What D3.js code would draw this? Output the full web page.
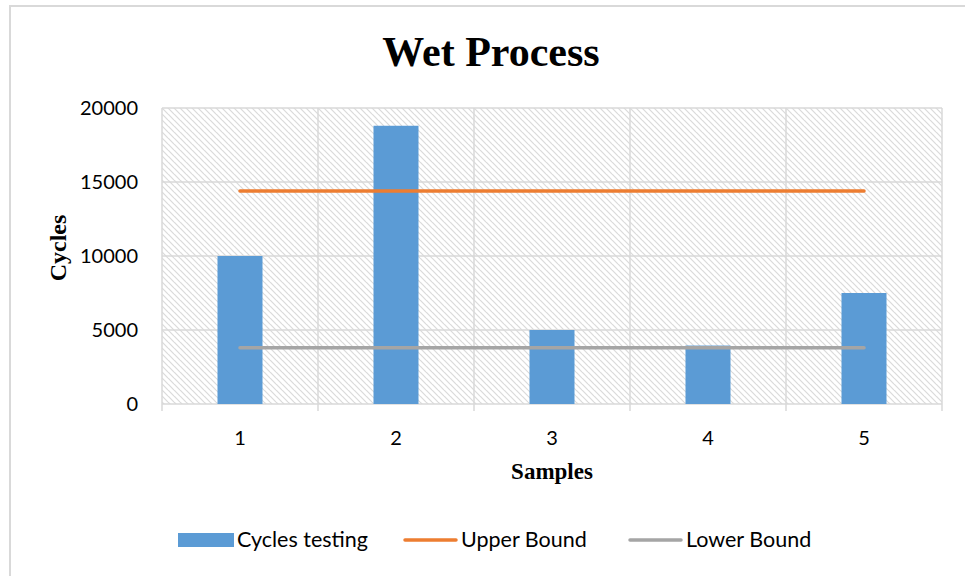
<!DOCTYPE html>
<html><head><meta charset="utf-8">
<script src="https://cdn.jsdelivr.net/npm/d3@7"></script>
<style>body{margin:0;background:#fff;} svg{display:block;}</style>
</head><body>
<script>
const categories = ["1","2","3","4","5"];
const cyclesTesting = [10000, 18800, 5000, 3950, 7500];
const upperBound = [14400, 14400, 14400, 14400, 14400];
const lowerBound = [3800, 3800, 3800, 3800, 3800];
const yTicks = [0, 5000, 10000, 15000, 20000];

const W = 965, H = 576;
const m = {left:162, right:942, top:108, bottom:404};
const svg = d3.select("body").append("svg").attr("width", W).attr("height", H);

// chart border
svg.append("rect").attr("x",10).attr("y",6).attr("width",980).attr("height",600)
  .attr("fill","#fff").attr("stroke","#d9d9d9").attr("stroke-width",2);

const defs = svg.append("defs");
const pat = defs.append("pattern").attr("id","hatch").attr("patternUnits","userSpaceOnUse")
  .attr("width",6).attr("height",6);
pat.append("rect").attr("width",6).attr("height",6).attr("fill","#fff");
pat.append("path").attr("d","M0,0 L6,6 M-3,3 L0,6 M3,-3 L9,3 M4,-2 L8,2")
  .attr("stroke","#dadada").attr("stroke-width",1.2);

const x = d3.scaleBand().domain(categories).range([m.left, m.right]);
const y = d3.scaleLinear().domain([0,20000]).range([m.bottom, m.top]);

svg.append("rect").attr("x",m.left).attr("y",m.top).attr("width",m.right-m.left).attr("height",m.bottom-m.top)
  .attr("fill","url(#hatch)");

// horizontal gridlines
svg.append("g").selectAll("line").data(yTicks).join("line")
  .attr("x1",m.left).attr("x2",m.right).attr("y1",d=>y(d)).attr("y2",d=>y(d))
  .attr("stroke","#d9d9d9").attr("stroke-width",1.5);
// vertical gridlines at category boundaries
const bounds = categories.map(c=>x(c)).concat([m.right]);
svg.append("g").selectAll("line").data(bounds).join("line")
  .attr("x1",d=>d).attr("x2",d=>d).attr("y1",m.top).attr("y2",m.bottom+7)
  .attr("stroke","#d9d9d9").attr("stroke-width",1.5);

// bars
const bw = 45;
svg.append("g").selectAll("rect").data(cyclesTesting).join("rect")
  .attr("x",(d,i)=>x(categories[i])+x.bandwidth()/2-bw/2)
  .attr("y",d=>y(d)).attr("width",bw).attr("height",d=>y(0)-y(d))
  .attr("fill","#5b9bd5");

const line = d3.line().x((d,i)=>x(categories[i])+x.bandwidth()/2).y(d=>y(d));
svg.append("path").datum(upperBound).attr("d",line).attr("fill","none")
  .attr("stroke","#ed7d31").attr("stroke-width",3.5).attr("stroke-linecap","round");
svg.append("path").datum(lowerBound).attr("d",line).attr("fill","none")
  .attr("stroke","#a5a5a5").attr("stroke-width",3.5).attr("stroke-linecap","round");

// y tick labels
svg.append("g").selectAll("text").data(yTicks).join("text")
  .attr("x",138).attr("y",d=>y(d)).attr("dy","0.35em").attr("text-anchor","end")
  .attr("font-family","Lato, 'Open Sans', sans-serif").attr("font-size",20).attr("fill","#000")
  .text(d=>d);
// x tick labels
svg.append("g").selectAll("text").data(categories).join("text")
  .attr("x",d=>x(d)+x.bandwidth()/2).attr("y",445).attr("text-anchor","middle")
  .attr("font-family","Lato, 'Open Sans', sans-serif").attr("font-size",20).attr("fill","#000")
  .text(d=>d);

// title
svg.append("text").attr("x",491).attr("y",66).attr("text-anchor","middle")
  .attr("font-family","'Liberation Serif', 'Times New Roman', serif").attr("font-weight","bold")
  .attr("font-size",42).text("Wet Process");
// axis titles
svg.append("text").attr("transform","translate(66,248) rotate(-90)").attr("text-anchor","middle")
  .attr("font-family","'Liberation Serif', serif").attr("font-weight","bold").attr("font-size",24).text("Cycles");
svg.append("text").attr("x",552).attr("y",479).attr("text-anchor","middle")
  .attr("font-family","'Liberation Serif', serif").attr("font-weight","bold").attr("font-size",23).text("Samples");

// legend
const lg = svg.append("g").attr("font-family","Lato, 'Open Sans', sans-serif").attr("font-size",21.5);
lg.append("rect").attr("x",178).attr("y",533).attr("width",56).attr("height",14).attr("fill","#5b9bd5");
lg.append("text").attr("x",237).attr("y",547).text("Cycles testing");
lg.append("line").attr("x1",405).attr("x2",456).attr("y1",540).attr("y2",540)
  .attr("stroke","#ed7d31").attr("stroke-width",3.5).attr("stroke-linecap","round");
lg.append("text").attr("x",461).attr("y",547).text("Upper Bound");
lg.append("line").attr("x1",630).attr("x2",681).attr("y1",540).attr("y2",540)
  .attr("stroke","#a5a5a5").attr("stroke-width",3.5).attr("stroke-linecap","round");
lg.append("text").attr("x",686).attr("y",547).text("Lower Bound");
</script>
</body></html>
